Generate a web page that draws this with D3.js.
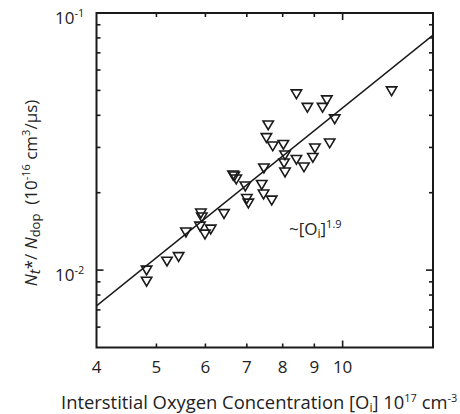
<!DOCTYPE html>
<html>
<head>
<meta charset="utf-8">
<script src="https://cdn.jsdelivr.net/npm/d3@7"></script>
<style>
  html, body { margin: 0; padding: 0; background: #fff; }
  svg { display: block; }
  text { font-family: "Open Sans", "Noto Sans", sans-serif; fill: #222; }
</style>
</head>
<body>
<svg id="chart" width="460" height="414"></svg>
<script>
// Interstitial oxygen concentration (10^17 cm^-3)
const oxygen = [
  4.82, 4.82, 5.20, 5.43, 5.58, 5.90, 5.92, 5.88, 5.99, 6.12,
  6.43, 6.65, 6.68, 6.73, 6.96, 7.00, 7.04, 7.40, 7.46, 7.45,
  7.68, 7.58, 7.53, 7.71, 8.02, 8.07, 8.04, 8.07, 8.42, 8.66,
  8.95, 9.02, 9.53, 8.42, 8.77, 9.28, 9.43, 9.71, 12.0
];
// Normalised defect density Nt*/Ndop (10^-16 cm^3/µs)
const ratio = [
  0.01003, 0.00908, 0.01087, 0.01132, 0.01411, 0.01673, 0.01614, 0.01488, 0.01385, 0.01449,
  0.01665, 0.02351, 0.02330, 0.02268, 0.02131, 0.01905, 0.01829, 0.02160, 0.02504, 0.01983,
  0.01879, 0.03683, 0.03287, 0.03050, 0.03092, 0.02814, 0.02620, 0.02415, 0.02703, 0.02527,
  0.02752, 0.02996, 0.03133, 0.04864, 0.04309, 0.04309, 0.04610, 0.03888, 0.04996
];
// Power-law fit ~[Oi]^1.9, end points across the plotted range
const fitX = [4, 14];
const fitY = [0.00726, 0.0820];

const xTicks = [4, 5, 6, 7, 8, 9, 10];
const xMinor = [5, 6, 7, 8, 9];
const yMajor = [0.01, 0.1];
const yMajorExp = ["-2", "-1"];
const yMinor = [0.006, 0.007, 0.008, 0.009, 0.02, 0.03, 0.04, 0.05, 0.06, 0.07, 0.08, 0.09];

const L = 96.5, R = 433, T = 13, B = 347.5;
const svg = d3.select("#chart");

const x = d3.scaleLog().domain([4, 14]).range([L, R]);
const y = d3.scaleLog().domain([0.005, 0.1]).range([B, T]);

const ink = "#1a1a1a";

// Ticks (inward, on all four sides)
const tickG = svg.append("g").attr("stroke", ink).attr("stroke-width", 1.6);
xMinor.forEach(v => {
  tickG.append("line").attr("x1", x(v)).attr("x2", x(v)).attr("y1", B).attr("y2", B - 4);
  tickG.append("line").attr("x1", x(v)).attr("x2", x(v)).attr("y1", T).attr("y2", T + 4);
});
[10].forEach(v => {
  tickG.append("line").attr("x1", x(v)).attr("x2", x(v)).attr("y1", B).attr("y2", B - 7);
  tickG.append("line").attr("x1", x(v)).attr("x2", x(v)).attr("y1", T).attr("y2", T + 7);
});
yMinor.forEach(v => {
  tickG.append("line").attr("x1", L).attr("x2", L + 4).attr("y1", y(v)).attr("y2", y(v));
  tickG.append("line").attr("x1", R).attr("x2", R - 4).attr("y1", y(v)).attr("y2", y(v));
});
yMajor.forEach(v => {
  tickG.append("line").attr("x1", L).attr("x2", L + 7).attr("y1", y(v)).attr("y2", y(v));
  tickG.append("line").attr("x1", R).attr("x2", R - 7).attr("y1", y(v)).attr("y2", y(v));
});

// Frame
svg.append("rect")
  .attr("x", L).attr("y", T).attr("width", R - L).attr("height", B - T)
  .attr("fill", "none").attr("stroke", ink).attr("stroke-width", 2);

// Fit line
const line = d3.line().x(d => x(d[0])).y(d => y(d[1]));
svg.append("path")
  .datum(d3.zip(fitX, fitY))
  .attr("d", line)
  .attr("fill", "none").attr("stroke", ink).attr("stroke-width", 1.4);

// Data markers: open down-pointing triangles
const tri = "M-5.2,-3.6L5.2,-3.6L0,5.2Z";
svg.append("g").selectAll("path")
  .data(d3.zip(oxygen, ratio))
  .join("path")
  .attr("transform", d => `translate(${x(d[0])},${y(d[1])})`)
  .attr("d", tri)
  .attr("fill", "none").attr("stroke", ink).attr("stroke-width", 1.6)
  .attr("stroke-linejoin", "miter");

// X tick labels
svg.append("g").selectAll("text")
  .data(xTicks).join("text")
  .attr("x", d => x(d)).attr("y", 373)
  .attr("text-anchor", "middle").attr("font-size", 17)
  .text(d => d);

// Y tick labels 10^n
yMajor.forEach((v, i) => {
  const t = svg.append("text").attr("x", 55).attr("y", y(v) + 11).attr("font-size", 17);
  t.append("tspan").text("10");
  t.append("tspan").attr("dy", -7).attr("font-size", 11).text(yMajorExp[i]);
});

// X axis title
const xt = svg.append("text").attr("x", 61).attr("y", 408.5).attr("font-size", 18.4);
xt.append("tspan").text("Interstitial Oxygen Concentration [O");
xt.append("tspan").attr("dy", 3).attr("font-size", 12).text("i");
xt.append("tspan").attr("dy", -3).text("] 10");
xt.append("tspan").attr("dy", -7).attr("font-size", 11).text("17");
xt.append("tspan").attr("dy", 7).text(" cm");
xt.append("tspan").attr("dy", -7).attr("font-size", 11).text("-3");

// Y axis title
const yt = svg.append("text")
  .attr("transform", "translate(37,193) rotate(-90)")
  .attr("text-anchor", "middle").attr("font-size", 17);
yt.append("tspan").attr("font-style", "italic").text("N");
yt.append("tspan").attr("font-style", "italic").attr("dy", 3).attr("font-size", 15).text("t");
yt.append("tspan").attr("dy", -3).text("*/ ");
yt.append("tspan").attr("font-style", "italic").text("N");
yt.append("tspan").attr("dy", 3).attr("font-size", 13).text("dop");
yt.append("tspan").attr("dy", -3).text("\u00a0\u00a0(10");
yt.append("tspan").attr("dy", -7).attr("font-size", 11).text("-16");
yt.append("tspan").attr("dy", 7).text(" cm");
yt.append("tspan").attr("dy", -7).attr("font-size", 11).text("3");
yt.append("tspan").attr("dy", 7).text("/µs)");

// Power-law annotation
const an = svg.append("text").attr("x", 289).attr("y", 235).attr("font-size", 17);
an.append("tspan").text("~[O");
an.append("tspan").attr("dy", 3).attr("font-size", 12).text("i");
an.append("tspan").attr("dy", -3).text("]");
an.append("tspan").attr("dy", -7).attr("font-size", 11).text("1.9");
</script>
</body>
</html>
